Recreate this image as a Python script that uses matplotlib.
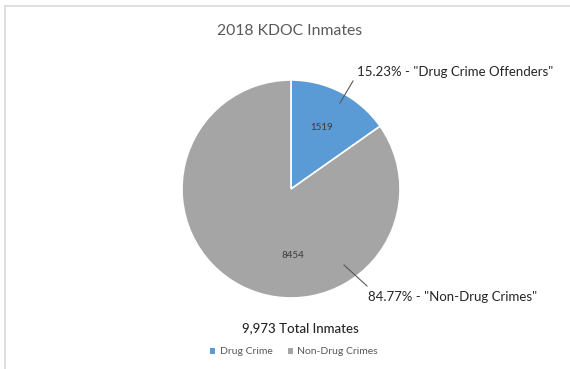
import matplotlib
matplotlib.use("Agg")
import matplotlib.pyplot as plt
from matplotlib.lines import Line2D
from matplotlib.patches import Patch

categories = ["Drug Crime", "Non-Drug Crimes"]
values = [1519, 8454]
label_texts = ['15.23% - "Drug Crime Offenders"', '84.77% - "Non-Drug Crimes"']
title = "2018 KDOC Inmates"
total_text = "9,973 Total Inmates"
colors = ["#5B9BD5", "#A5A5A5"]

plt.rcParams['font.family'] = ['Lato', 'DejaVu Sans']

W, H = 570, 369
fig = plt.figure(figsize=(W / 100, H / 100), dpi=100)

# chart frame (left and top edges visible)
fig.add_artist(Line2D([5 / W, 5 / W], [0, 1 - 6 / H], transform=fig.transFigure, color="#D9D9D9", lw=1.2))
fig.add_artist(Line2D([5 / W, 1], [1 - 6 / H, 1 - 6 / H], transform=fig.transFigure, color="#D9D9D9", lw=1.2))

cx, cy, r = 291, 189, 109
ax = fig.add_axes([(cx - r) / W, (H - cy - r) / H, 2 * r / W, 2 * r / H])
wedges, _ = ax.pie(values, colors=colors, startangle=90, counterclock=False,
                   wedgeprops=dict(edgecolor="white", linewidth=1.2), radius=1)
ax.set_xlim(-1, 1)
ax.set_ylim(-1, 1)
ax.set_aspect("equal")
ax.axis("off")

def px(x, y):
    return ((x - cx) / r, (cy - y) / r)

# value labels inside
ax.text(*px(322, 128), str(values[0]), ha="center", va="center", fontsize=7, color="#404040", fontweight="medium")
ax.text(*px(293, 255), str(values[1]), ha="center", va="center", fontsize=7, color="#404040", fontweight="medium")

# leader lines
for (x0, y0, x1, y1) in [(340, 103, 353, 81), (344, 265, 367, 286)]:
    a = px(x0, y0); b = px(x1, y1)
    ax.add_line(Line2D([a[0], b[0]], [a[1], b[1]], color="#595959", lw=0.8, clip_on=False))

fig.text(357 / W, 1 - 72 / H, label_texts[0], ha="left", va="center", fontsize=9.5, color="#262626")
fig.text(368 / W, 1 - 297 / H, label_texts[1], ha="left", va="center", fontsize=9.5, color="#262626")

fig.text(290 / W, 1 - 31 / H, title, ha="center", va="center", fontsize=11.3, color="#595959")
fig.text(300 / W, 1 - 328 / H, total_text, ha="center", va="center", fontsize=9.5, color="#262626", fontweight="medium")

handles = [Patch(facecolor=c, edgecolor="none") for c in colors]
fig.legend(handles, categories, loc="center", bbox_to_anchor=(294 / W, 1 - 352 / H), ncol=2,
           frameon=False, fontsize=7.5, labelcolor="#595959", handlelength=0.5, handleheight=0.5,
           handletextpad=0.4, columnspacing=1.5)

fig.savefig("out.png", dpi=100)
